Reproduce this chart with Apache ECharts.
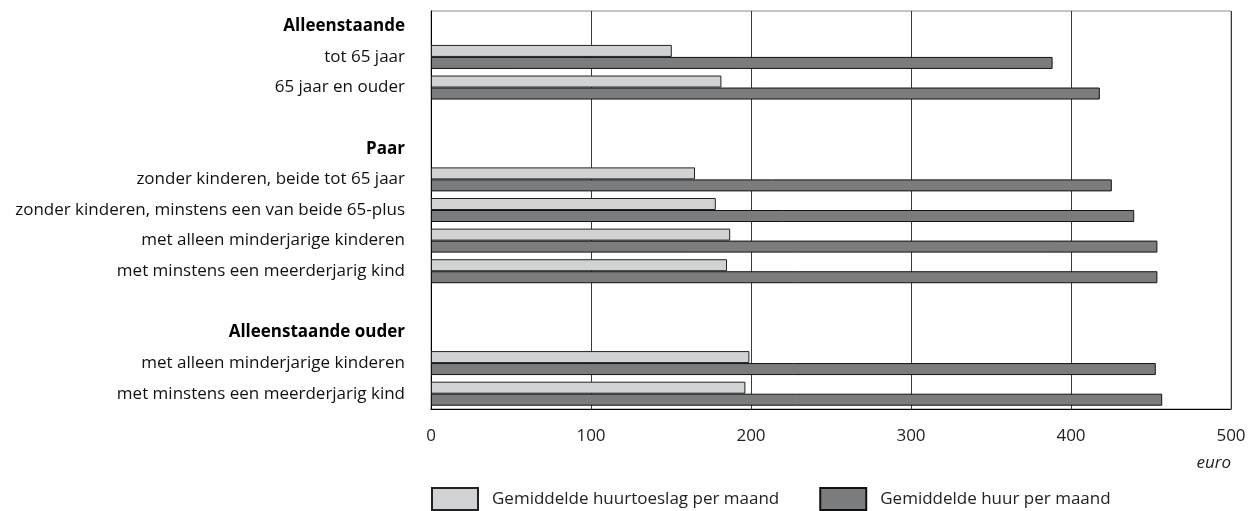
<!DOCTYPE html>
<html>
<head>
<meta charset="utf-8">
<script src="https://cdn.jsdelivr.net/npm/echarts@6/dist/echarts.min.js"></script>
<style>
html,body{margin:0;padding:0;background:#fff;}
#c{width:1252px;height:511px;}
</style>
</head>
<body>
<div id="c"></div>
<script>
// Categories (top to bottom); blank entries are spacer rows
var categories = [
  'Alleenstaande',
  'tot 65 jaar',
  '65 jaar en ouder',
  '',
  'Paar',
  'zonder kinderen, beide tot 65 jaar',
  'zonder kinderen, minstens een van beide 65-plus',
  'met alleen minderjarige kinderen',
  'met minstens een meerderjarig kind',
  ' ',
  'Alleenstaande ouder',
  'met alleen minderjarige kinderen ',
  'met minstens een meerderjarig kind '
];
var headers = ['Alleenstaande', 'Paar', 'Alleenstaande ouder'];
var huurtoeslag = [null, 150.5, 181.5, null, null, 165, 178, 187, 185, null, null, 199, 196.5];
var huur        = [null, 388.5, 418, null, null, 425.5, 439.5, 454, 454, null, null, 453, 457];
var xTicks = [0, 100, 200, 300, 400, 500];
var seriesNames = ['Gemiddelde huurtoeslag per maand', 'Gemiddelde huur per maand'];
var unitLabel = 'euro';

var FONT = '"Open Sans", "Noto Sans", sans-serif';
var FS = 17;
var chart = echarts.init(document.getElementById('c'), null, {renderer: 'canvas'});
chart.setOption({
  animation: false,
  backgroundColor: '#ffffff',
  grid: {left: 431, right: 21, top: 11, bottom: 102, show: true, borderColor: '#8a8a8a', borderWidth: 1, containLabel: false},
  xAxis: {
    type: 'value', min: xTicks[0], max: xTicks[xTicks.length - 1], interval: 100,
    axisLine: {show: true, lineStyle: {color: '#000', width: 1}},
    axisTick: {show: false},
    splitLine: {show: true, lineStyle: {color: '#3a3a3a', width: 1}},
    axisLabel: {color: '#222', fontFamily: FONT, fontSize: FS, margin: 19}
  },
  yAxis: {
    type: 'category', data: categories, inverse: true,
    axisLine: {show: true, lineStyle: {color: '#000', width: 1}},
    axisTick: {show: false},
    splitLine: {show: false},
    axisLabel: {
      margin: 26, color: '#111', fontFamily: FONT, fontSize: FS, interval: 0,
      formatter: function (v) {
        var t = v.trim();
        if (headers.indexOf(v) >= 0) return '{b|' + t + '}';
        return t;
      },
      rich: {b: {fontWeight: 'bold', fontFamily: FONT, fontSize: FS, color: '#000'}}
    }
  },
  legend: {
    left: 431, top: 487, padding: 0, itemWidth: 46, itemHeight: 22, itemGap: 40,
    icon: 'rect',
    textStyle: {fontFamily: FONT, fontSize: FS, color: '#222', padding: [0, 0, 0, 9]},
    data: seriesNames
  },
  graphic: [{
    type: 'text', right: 21, top: 455,
    style: {text: unitLabel, fontFamily: FONT, fontSize: FS, fontStyle: 'italic', fill: '#222'}
  }],
  series: [
    {name: seriesNames[0], type: 'bar', data: huurtoeslag, barWidth: 12, barGap: '0%',
     itemStyle: {color: '#d1d2d4', borderColor: '#222', borderWidth: 1}},
    {name: seriesNames[1], type: 'bar', data: huur, barWidth: 12, barGap: '0%',
     itemStyle: {color: '#7b7c7e', borderColor: '#111', borderWidth: 1}}
  ]
});
</script>
</body>
</html>
